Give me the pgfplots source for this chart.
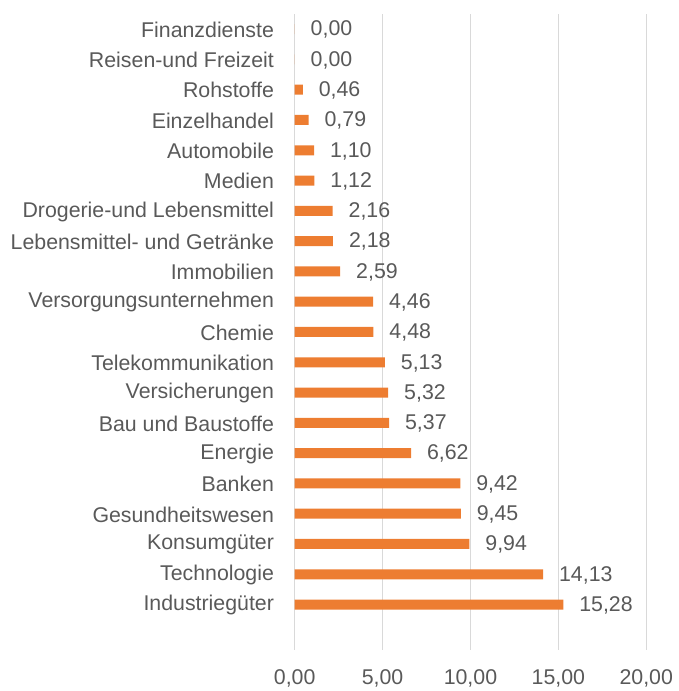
\documentclass[border=0pt]{standalone}
\usepackage{pgfplots}
\pgfplotsset{compat=1.18}
\usepackage{fontspec}
\setmainfont{Liberation Sans}
\definecolor{barorange}{HTML}{ED7D31}
\definecolor{txtgray}{HTML}{595959}
\definecolor{gridgray}{HTML}{D9D9D9}
\begin{document}
\begin{tikzpicture}
\useasboundingbox (-221pt,-30.75pt) rectangle (287.5pt,487.5pt);
\begin{axis}[
  at={(0,0)}, anchor=south west,
  scale only axis,
  width=263.7pt, height=477pt,
  xbar, bar width=7.5pt,
  xmin=0, xmax=20,
  ymin=-1.5, ymax=19.5,
  xtick={0,5,10,15,20},
  ytick={0,...,19},
  yticklabels={Industriegüter,Technologie,Konsumgüter,Gesundheitswesen,Banken,Energie,Bau und Baustoffe,Versicherungen,Telekommunikation,Chemie,Versorgungsunternehmen,Immobilien,Lebensmittel- und Getränke,Drogerie-und Lebensmittel,Medien,Automobile,Einzelhandel,Rohstoffe,Reisen-und Freizeit,Finanzdienste},
  axis line style={draw=none},
  major tick length=0pt,
  xmajorgrids, grid style={gridgray, line width=1.1pt},
  ymajorgrids=false,
  /pgf/number format/assume math mode=true,
  /pgf/number format/.cd, fixed, zerofill, precision=2, use comma, /pgfplots/.cd,
  tick label style={font=\fontsize{16}{19}\selectfont, text=txtgray},
  xticklabel style={yshift=-11.5pt},
  yticklabel style={xshift=-12pt, yshift=-0.5pt},
  nodes near coords,
  every node near coord/.append style={font=\fontsize{16}{19}\selectfont, text=txtgray, anchor=west, xshift=8.5pt, yshift=-0.5pt},
  clip=false,
]
\addplot[fill=barorange, draw=none] coordinates {
(15.28,0) (14.13,1) (9.94,2) (9.45,3) (9.42,4) (6.62,5) (5.37,6) (5.32,7) (5.13,8) (4.48,9)
(4.46,10) (2.59,11) (2.18,12) (2.16,13) (1.12,14) (1.10,15) (0.79,16) (0.46,17) (0.00,18) (0.00,19)
};
\end{axis}
\end{tikzpicture}
\end{document}
